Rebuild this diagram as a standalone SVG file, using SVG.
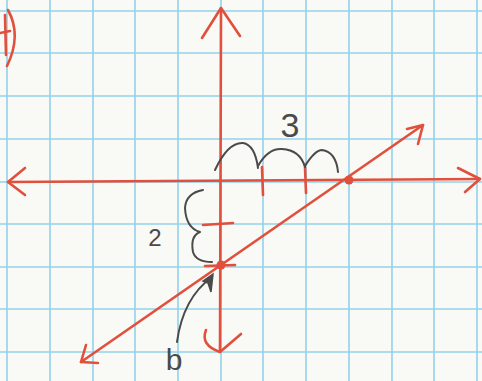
<svg xmlns="http://www.w3.org/2000/svg" width="482" height="381" viewBox="0 0 482 381">
<defs>
<style>
.grid{stroke:#93d2ea;stroke-width:1.6;fill:none}
.red{stroke:#e0503c;stroke-width:2.6;fill:none;stroke-linecap:round;stroke-linejoin:round}
.pen{stroke:#4a4a4a;stroke-width:2;fill:none;stroke-linecap:round;stroke-linejoin:round}
.lbl{font-family:"Liberation Sans",Arial,sans-serif;fill:#4a4a4a}
</style>
</defs>
<rect width="482" height="381" fill="#f9f9f6"/>
<g id="grid" class="grid">
<path d="M7 0V381M50 0V381M93 0V381M135 0V381M178 0V381M221 0V381M263 0V381M306 0V381M349 0V381M392 0V381M434 0V381M477 0V381"/>
<path d="M0 11H482M0 53H482M0 96H482M0 139H482M0 182H482M0 224H482M0 267H482M0 309H482M0 352H482"/>
</g>
<g id="corner" class="red">
<path d="M5 15 L6 55"/>
<path d="M0 33 L10 31"/>
<path d="M8 10 Q22 35 7 66"/>
</g>
<g id="axes" class="red">
<path d="M8 182 L480 179"/>
<path d="M25 168 L8 182 L25 195"/>
<path d="M458 168 L480 179 L465 192"/>
<path d="M221 8 L220 352"/>
<path d="M202 38 L221 8 L240 36"/>
<path d="M206 330 Q200 345 220 352 L241 334"/>
</g>
<g id="ticks" class="red">
<path d="M262 167 L263 195"/>
<path d="M305 167 L306 193"/>
<path d="M203 225 L233 223"/>
<path d="M205 266 L235 265"/>
</g>
<g id="line" class="red">
<path d="M81 362 L423 125"/>
<path d="M407 129 L423 125 L418 144"/>
<path d="M86 345 L81 362 L98 363"/>
</g>
<g id="points" fill="#e0503c">
<circle cx="221" cy="265" r="4.5"/>
<circle cx="349" cy="180" r="4.5"/>
</g>
<g id="annotations">
<path class="pen" d="M215 170 Q228 142 243 143 Q255 145 258 168 M258 166 Q268 148 282 149 Q300 150 305 167 M305 166 Q315 150 322 150 Q336 152 338 172"/>
<path class="pen" d="M203 190 Q186 193 185 208 Q186 228 200 232 Q190 236 193 252 Q196 262 212 262"/>
<path class="pen" d="M177 342 Q183 298 212 277"/>
<path d="M213 274 L203 281 L208 283 L211 292 Z" fill="#4a4a4a" stroke="#4a4a4a" stroke-width="1.5"/>
<text class="lbl" x="290" y="137" font-size="34" text-anchor="middle">3</text>
<text class="lbl" x="155" y="246" font-size="24" text-anchor="middle">2</text>
<text class="lbl" x="174" y="370" font-size="30" text-anchor="middle">b</text>
</g>
</svg>
